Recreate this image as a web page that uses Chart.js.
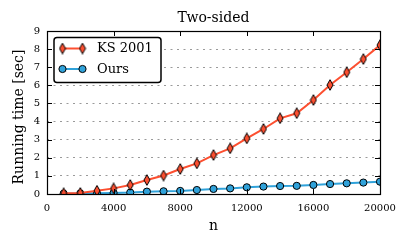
<!DOCTYPE html>
<html>
<head>
<meta charset="utf-8">
<script src="https://cdn.jsdelivr.net/npm/chart.js@4/dist/chart.umd.min.js"></script>
<style>
  html, body { margin: 0; padding: 0; background: #fff; }
  #wrap { width: 408px; height: 245px; position: relative; }
</style>
</head>
<body>
<div id="wrap"><canvas id="c" width="408" height="245"></canvas></div>
<script>
// ---- data ----
const nValues = [1000, 2000, 3000, 4000, 5000, 6000, 7000, 8000, 9000, 10000,
                 11000, 12000, 13000, 14000, 15000, 16000, 17000, 18000, 19000, 20000];
const ks2001 = [0.04, 0.06, 0.18, 0.31, 0.50, 0.77, 1.02, 1.38, 1.69, 2.15,
                2.52, 3.07, 3.59, 4.18, 4.46, 5.19, 6.02, 6.72, 7.45, 8.22];
const ours   = [0.02, 0.03, 0.04, 0.06, 0.08, 0.13, 0.15, 0.17, 0.22, 0.28,
                0.31, 0.37, 0.41, 0.44, 0.45, 0.50, 0.55, 0.59, 0.63, 0.68];
const seriesLabels = ['KS 2001', 'Ours'];
const xTicks = [0, 4000, 8000, 12000, 16000, 20000];
const yTicks = [0, 1, 2, 3, 4, 5, 6, 7, 8, 9];
const titleText = 'Two-sided';
const xLabel = 'n';
const yLabel = 'Running time [sec]';

const RED = '#fc4f30', BLUE = '#30a2da';
const SERIF = '"DejaVu Serif", "Liberation Serif", serif';

function makeDiamond(fill) {
  const c = document.createElement('canvas');
  const w = 8, h = 12;
  c.width = w; c.height = h;
  const g = c.getContext('2d');
  g.beginPath();
  g.moveTo(w / 2, 0.7);
  g.lineTo(w - 1, h / 2);
  g.lineTo(w / 2, h - 0.7);
  g.lineTo(1, h / 2);
  g.closePath();
  g.fillStyle = fill; g.fill();
  g.lineWidth = 1; g.strokeStyle = '#000'; g.stroke();
  return c;
}
const diamond = makeDiamond(RED);

const toPts = (ys) => nValues.map((x, i) => ({ x: x, y: ys[i] }));

const framePlugin = {
  id: 'frame',
  afterDatasetsDraw(chart) {
    const ctx = chart.ctx, a = chart.chartArea;
    const xs = chart.scales.x, ys = chart.scales.y;
    ctx.save();
    ctx.strokeStyle = '#000';
    ctx.lineWidth = 1;
    ctx.beginPath();
    xTicks.forEach(v => {
      const px = Math.round(xs.getPixelForValue(v)) + 0.5;
      ctx.moveTo(px, a.bottom); ctx.lineTo(px, a.bottom - 5);
      ctx.moveTo(px, a.top); ctx.lineTo(px, a.top + 5);
    });
    yTicks.forEach(v => {
      const py = Math.round(ys.getPixelForValue(v)) + 0.5;
      ctx.moveTo(a.left, py); ctx.lineTo(a.left + 5, py);
      ctx.moveTo(a.right, py); ctx.lineTo(a.right - 5, py);
    });
    ctx.stroke();
    ctx.lineWidth = 1.2;
    ctx.strokeRect(Math.round(a.left) + 0.5, Math.round(a.top) + 0.5,
                   Math.round(a.right - a.left), Math.round(a.bottom - a.top));
    ctx.restore();
  },
  afterDraw(chart) {
    const ctx = chart.ctx, a = chart.chartArea;
    ctx.save();
    // y-axis label
    ctx.translate(19.5, (a.top + a.bottom) / 2 + 4.5);
    ctx.rotate(-Math.PI / 2);
    ctx.fillStyle = '#000';
    ctx.font = '14px ' + SERIF;
    ctx.textAlign = 'center';
    ctx.textBaseline = 'middle';
    ctx.fillText(yLabel, 0, 0);
    ctx.restore();

    // legend
    const bx = 54, by = 37.5, bw = 107, bh = 45;
    ctx.save();
    ctx.beginPath();
    ctx.roundRect(bx, by, bw, bh, 3);
    ctx.fillStyle = '#fff'; ctx.fill();
    ctx.lineWidth = 1.5; ctx.strokeStyle = '#000'; ctx.stroke();
    const rows = [48.5, 69];
    chart.data.datasets.forEach((ds, i) => {
      const y = rows[i];
      ctx.beginPath();
      ctx.moveTo(62.5, y); ctx.lineTo(82.5, y);
      ctx.lineWidth = 2; ctx.strokeStyle = ds.borderColor; ctx.stroke();
      [62.5, 82.5].forEach(x => {
        if (i === 0) {
          ctx.drawImage(diamond, x - diamond.width / 2, y - diamond.height / 2);
        } else {
          ctx.beginPath(); ctx.arc(x, y, 3.6, 0, Math.PI * 2);
          ctx.fillStyle = BLUE; ctx.fill();
          ctx.lineWidth = 1; ctx.strokeStyle = '#000'; ctx.stroke();
        }
      });
      ctx.fillStyle = '#000';
      ctx.font = '13px ' + SERIF;
      ctx.textBaseline = 'middle';
      ctx.textAlign = 'left';
      ctx.fillText(ds.label, 97, y + 0.5);
    });
    ctx.restore();
  }
};

new Chart(document.getElementById('c'), {
  type: 'line',
  data: {
    datasets: [
      {
        label: seriesLabels[0],
        data: toPts(ks2001),
        borderColor: RED,
        backgroundColor: RED,
        borderWidth: 2,
        pointStyle: diamond,
        pointRadius: 5,
        pointBorderColor: '#000',
        pointBackgroundColor: RED,
        tension: 0
      },
      {
        label: seriesLabels[1],
        data: toPts(ours),
        borderColor: BLUE,
        backgroundColor: BLUE,
        borderWidth: 2,
        pointStyle: 'circle',
        pointRadius: 3.6,
        pointBorderWidth: 1,
        pointBorderColor: '#000',
        pointBackgroundColor: BLUE,
        tension: 0
      }
    ]
  },
  options: {
    responsive: false,
    animation: false,
    devicePixelRatio: 1,
    layout: { padding: { left: 0, right: 28, top: 0, bottom: 0 } },
    plugins: {
      legend: { display: false },
      tooltip: { enabled: false },
      title: {
        display: true,
        fullSize: false,
        text: titleText,
        color: '#000',
        font: { family: SERIF, size: 14, weight: 'normal' },
        padding: { top: 10, bottom: 4.2 }
      }
    },
    scales: {
      x: {
        type: 'linear',
        min: 0, max: 20000,
        afterFit(s) { s.height = 51; },
        afterBuildTicks(s) { s.ticks = xTicks.map(v => ({ value: v })); },
        grid: { drawOnChartArea: false, drawTicks: false },
        border: { display: false },
        ticks: {
          color: '#000', padding: 8, maxRotation: 0, autoSkip: false,
          font: { family: SERIF, size: 10 },
          callback: v => String(v)
        },
        title: {
          display: true, text: xLabel, color: '#000',
          font: { family: SERIF, size: 14 },
          padding: { top: 0, bottom: 10 }
        }
      },
      y: {
        type: 'linear',
        min: 0, max: 9,
        afterFit(s) { s.width = 47; },
        afterBuildTicks(s) { s.ticks = yTicks.map(v => ({ value: v })); },
        grid: {
          drawTicks: false,
          color: '#9a9a9a',
          lineWidth: 1,
          borderDash: [2, 4.5]
        },
        border: { display: false, dash: [2, 4.5] },
        ticks: {
          color: '#000', padding: 7, autoSkip: false,
          font: { family: SERIF, size: 10 },
          callback: v => String(v)
        },
        title: { display: false }
      }
    }
  },
  plugins: [framePlugin]
});
</script>
</body>
</html>
